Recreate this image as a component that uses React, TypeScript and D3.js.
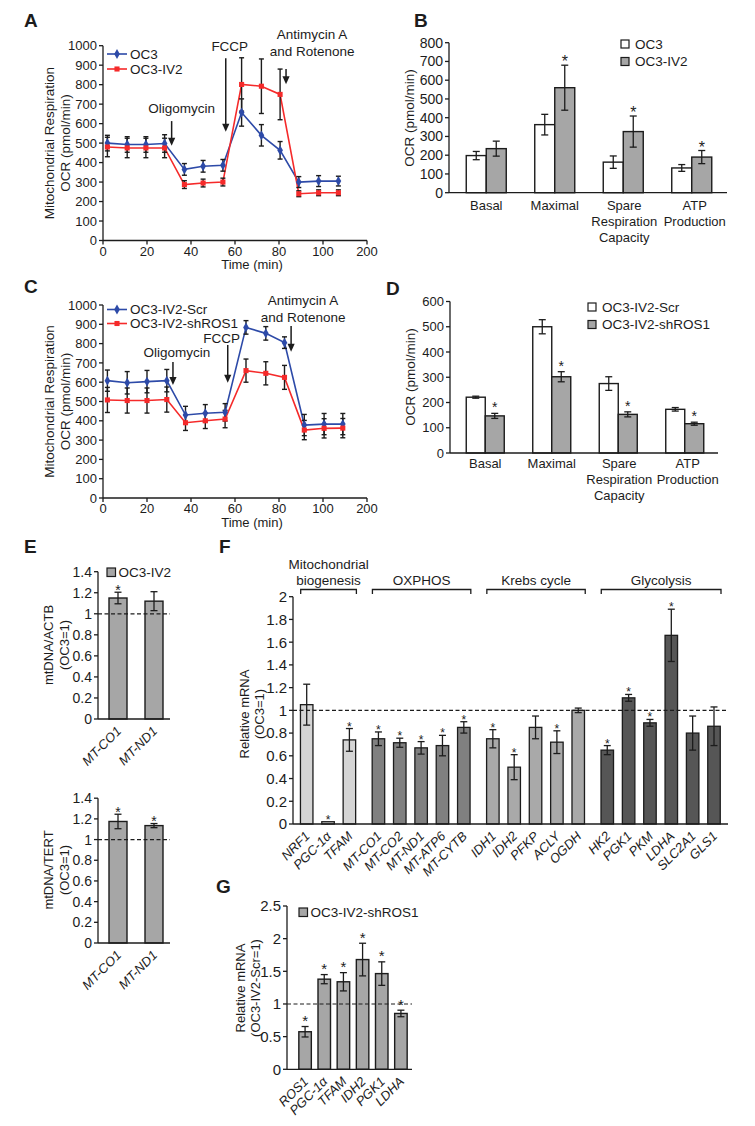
import * as d3 from "d3";

const FONT = "'Liberation Sans', Arial, Helvetica, sans-serif";
const INK = "#1c1c1c";
const BLUE = "#2d4aa8";
const RED = "#f52a2a";
const BAR_GREY = "#a6a6a6";

// ---------- A / C : mitochondrial respiration traces ----------
const timeTicks = [0, 20, 40, 60, 80, 100, 120];
const timeTickLabels = ["0", "20", "40", "60", "80", "100", "200"];
const ocrTicks = [0, 100, 200, 300, 400, 500, 600, 700, 800, 900, 1000];

const timeA = [2, 11, 19.5, 28, 37, 45.5, 54.5, 63, 72, 80.5, 89, 98, 107];
const ocrOC3 = [500, 493, 493, 498, 365, 381, 386, 657, 540, 463, 300, 305, 305];
const ocrOC3Err = [40, 40, 40, 45, 30, 30, 30, 70, 55, 45, 28, 28, 25];
const ocrIV2 = [480, 475, 475, 475, 287, 295, 300, 801, 792, 750, 240, 245, 245];
const ocrIV2Err = [50, 50, 50, 50, 20, 20, 20, 137, 140, 130, 15, 15, 15];

const timeC = [2, 11, 20, 29, 37.5, 46.5, 55.5, 65, 74, 82.5, 91.5, 100.5, 109];
const ocrScr = [608, 597, 603, 608, 430, 439, 444, 884, 853, 805, 378, 383, 383];
const ocrScrErr = [55, 58, 58, 58, 45, 45, 45, 35, 35, 30, 55, 55, 55];
const ocrSh = [508, 505, 505, 510, 390, 400, 409, 660, 646, 625, 352, 361, 362];
const ocrShErr = [65, 65, 65, 65, 40, 40, 45, 60, 60, 62, 50, 50, 50];

// injection arrows (time, arrow top / tip in OCR units)
const annotA = [
  { lines: ["Oligomycin"], t: 31.2, top: 613, tip: 486, dx: 10, gap: 8 },
  { lines: ["FCCP"], t: 55.8, top: 936, tip: 558, dx: 4, gap: 7 },
  { lines: ["Antimycin A", "and Rotenone"], t: 83.2, top: 880, tip: 802, dx: 26, gap: 13 },
];
const annotC = [
  { lines: ["Oligomycin"], t: 31.8, top: 705, tip: 585, dx: 4, gap: 5 },
  { lines: ["FCCP"], t: 56.7, top: 793, tip: 597, dx: -6, gap: 2 },
  { lines: ["Antimycin A", "and Rotenone"], t: 85.5, top: 891, tip: 758, dx: 12, gap: 4 },
];

// ---------- B / D : OCR parameters ----------
const respCats = ["Basal", "Maximal", "Spare", "ATP"];
const respCatLines = [["Basal"], ["Maximal"], ["Spare", "Respiration", "Capacity"], ["ATP", "Production"]];
const ocrBTicks = [0, 100, 200, 300, 400, 500, 600, 700, 800];
const ocrDTicks = [0, 100, 200, 300, 400, 500, 600];

const bOC3 = [198, 363, 163, 132];
const bOC3Err = [22, 55, 33, 18];
const bIV2 = [235, 560, 326, 190];
const bIV2Err = [40, 120, 83, 35];
const bIV2Sig = [false, true, true, true];

const dScr = [221, 500, 275, 173];
const dScrErr = [4, 28, 27, 7];
const dSh = [147, 302, 153, 116];
const dShErr = [10, 20, 10, 6];
const dShSig = [true, true, true, true];

// ---------- E : mtDNA copy number ----------
const eGenes = ["MT-CO1", "MT-ND1"];
const eTicks = [0, 0.2, 0.4, 0.6, 0.8, 1, 1.2, 1.4];
const eACTB = [1.15, 1.12];
const eACTBErr = [0.055, 0.09];
const eACTBSig = [true, false];
const eTERT = [1.175, 1.135];
const eTERTErr = [0.07, 0.02];
const eTERTSig = [true, true];

// ---------- F : relative mRNA OC3-IV2 vs OC3 ----------
const fGroupNames = [["Mitochondrial", "biogenesis"], ["OXPHOS"], ["Krebs cycle"], ["Glycolysis"]];
const fGroupFill = ["#d5d5d5", "#808080", "#a9a9a9", "#565656"];
const fGenes = ["NRF1", "PGC-1α", "TFAM", "MT-CO1", "MT-CO2", "MT-ND1", "MT-ATP6", "MT-CYTB",
  "IDH1", "IDH2", "PFKP", "ACLY", "OGDH", "HK2", "PGK1", "PKM", "LDHA", "SLC2A1", "GLS1"];
const fGroupOf = [0, 0, 0, 1, 1, 1, 1, 1, 2, 2, 2, 2, 2, 3, 3, 3, 3, 3, 3];
const fValues = [1.05, 0.02, 0.74, 0.75, 0.715, 0.67, 0.69, 0.85, 0.75, 0.5, 0.85, 0.72, 1.0,
  0.65, 1.11, 0.89, 1.66, 0.8, 0.86];
const fErr = [0.18, 0, 0.1, 0.06, 0.04, 0.055, 0.09, 0.05, 0.08, 0.11, 0.1, 0.1, 0.02,
  0.04, 0.03, 0.03, 0.23, 0.15, 0.17];
const fSig = [false, true, true, true, true, true, true, true, true, true, false, true, false,
  true, true, true, true, false, false];
const fTicks = [0, 0.2, 0.4, 0.6, 0.8, 1, 1.2, 1.4, 1.6, 1.8, 2];

// ---------- G : relative mRNA shROS1 vs Scr ----------
const gGenes = ["ROS1", "PGC-1α", "TFAM", "IDH2", "PGK1", "LDHA"];
const gValues = [0.575, 1.38, 1.34, 1.68, 1.465, 0.855];
const gErr = [0.08, 0.07, 0.14, 0.25, 0.18, 0.05];
const gSig = [true, true, true, true, true, true];
const gTicks = [0, 0.5, 1, 1.5, 2, 2.5];

const fmtDec = (v: number) => String(+v.toFixed(1));

function YAxis({ x, scale, ticks, fontSize, fmt = (v: number) => String(v) }: any) {
  const [y0, y1] = scale.range();
  return (
    <g>
      <line x1={x} x2={x} y1={y0} y2={y1} stroke={INK} strokeWidth={1.3} />
      {ticks.map((t: number) => (
        <g key={t}>
          <line x1={x - 4} x2={x} y1={scale(t)} y2={scale(t)} stroke={INK} strokeWidth={1.3} />
          <text x={x - 6} y={scale(t)} dy="0.36em" textAnchor="end" fontSize={fontSize}>
            {fmt(t)}
          </text>
        </g>
      ))}
    </g>
  );
}

function RotLabel({ x, y, lines, fontSize, lh }: any) {
  return (
    <text transform={`translate(${x},${y}) rotate(-90)`} textAnchor="middle" fontSize={fontSize}>
      {lines.map((l: string, i: number) => (
        <tspan key={i} x={0} dy={i === 0 ? 0 : lh}>{l}</tspan>
      ))}
    </text>
  );
}

function ErrorBar({ x, y1, y2, cap, w = 1.3 }: any) {
  return (
    <g stroke={INK} strokeWidth={w}>
      <line x1={x} x2={x} y1={y1} y2={y2} />
      <line x1={x - cap / 2} x2={x + cap / 2} y1={y1} y2={y1} />
      <line x1={x - cap / 2} x2={x + cap / 2} y1={y2} y2={y2} />
    </g>
  );
}

function PanelLetter({ x, y, children }: any) {
  return <text x={x} y={y} fontSize={19} fontWeight="bold">{children}</text>;
}

function TracePanel({ top, bottom, time, s1, s1Err, s2, s2Err, names, annots, legendY, legendDy }: any) {
  const x = d3.scaleLinear().domain([0, 120]).range([103, 367]);
  const y = d3.scaleLinear().domain([0, 1000]).range([bottom, top]);
  const diamond = d3.symbol(d3.symbolDiamond, 28)() as string;
  const square = d3.symbol(d3.symbolSquare, 26)() as string;
  const series = [
    { v: s1, e: s1Err, color: BLUE, mark: diamond },
    { v: s2, e: s2Err, color: RED, mark: square },
  ];
  const path = (v: number[]) =>
    d3.line<number>().x((_, i) => x(time[i])).y((d) => y(d))(v) as string;
  return (
    <g>
      <YAxis x={103} scale={y} ticks={ocrTicks} fontSize={13} />
      <line x1={x(0)} x2={x(120)} y1={bottom} y2={bottom} stroke={INK} strokeWidth={1.3} />
      {timeTicks.map((t, i) => (
        <g key={t}>
          <line x1={x(t)} x2={x(t)} y1={bottom} y2={bottom + 4} stroke={INK} strokeWidth={1.3} />
          <text x={x(t)} y={bottom + 15} textAnchor="middle" fontSize={13}>{timeTickLabels[i]}</text>
        </g>
      ))}
      <text x={(x(0) + x(120)) / 2 + 17} y={bottom + 28.5} textAnchor="middle" fontSize={13}>Time (min)</text>

      {series.map((s, k) => (
        <path key={"l" + k} d={path(s.v)} fill="none" stroke={s.color} strokeWidth={1.6} />
      ))}
      {series.map((s, k) =>
        s.v.map((v: number, i: number) => (
          <ErrorBar key={`e${k}-${i}`} x={x(time[i])} y1={y(v - s.e[i])} y2={y(v + s.e[i])} cap={5} w={1.4} />
        ))
      )}
      {series.map((s, k) =>
        s.v.map((v: number, i: number) => (
          <path key={`m${k}-${i}`} d={s.mark} transform={`translate(${x(time[i])},${y(v)})`} fill={s.color} />
        ))
      )}

      {annots.map((a: any, i: number) => {
        const ax = x(a.t);
        const yTop = y(a.top);
        const yTip = y(a.tip);
        const n = a.lines.length;
        return (
          <g key={i}>
            <line x1={ax} x2={ax} y1={yTop} y2={yTip - 6} stroke={INK} strokeWidth={1.5} />
            <path d={`M${ax - 3.6},${yTip - 8} L${ax + 3.6},${yTip - 8} L${ax},${yTip} Z`} fill={INK} />
            {a.lines.map((l: string, j: number) => (
              <text key={j} x={ax + a.dx} y={yTop - a.gap - (n - 1 - j) * 17} textAnchor="middle" fontSize={13.5}>
                {l}
              </text>
            ))}
          </g>
        );
      })}

      {series.map((s, k) => (
        <g key={"lg" + k}>
          <line x1={107} x2={127} y1={legendY + k * legendDy} y2={legendY + k * legendDy} stroke={s.color} strokeWidth={1.6} />
          <path d={s.mark} transform={`translate(117,${legendY + k * legendDy})`} fill={s.color} />
          <text x={130} y={legendY + k * legendDy} dy="0.34em" fontSize={13.5}>{names[k]}</text>
        </g>
      ))}

      <RotLabel x={53.5} y={(top + bottom) / 2} lines={["Mitochondrial Respiration", "OCR (pmol/min)"]} fontSize={13.5} lh={16} />
    </g>
  );
}

// small horizontal nudges of the category captions (the two-line ones sit right of the bars)
const catDx = [0, 0, 1, 3];

function PairBarPanel({ axisX, axisEnd, bandRange, y, ticks, tickFs, barW, a, aErr, b, bErr, bSig,
  starDy, starFs, catY, names, legendX, legendY, yLabelY }: any) {
  const band = d3.scaleBand().domain(respCats).range(bandRange);
  const bottom = y(0);
  return (
    <g>
      {respCats.map((c, i) => {
        const cx = (band(c) as number) + band.bandwidth() / 2;
        return (
          <g key={c}>
            <rect x={cx - barW} y={y(a[i])} width={barW} height={bottom - y(a[i])} fill="#fff" stroke={INK} strokeWidth={1.4} />
            <rect x={cx} y={y(b[i])} width={barW} height={bottom - y(b[i])} fill={BAR_GREY} stroke={INK} strokeWidth={1.4} />
            <ErrorBar x={cx - barW / 2} y1={y(a[i] - aErr[i])} y2={y(a[i] + aErr[i])} cap={7} />
            <ErrorBar x={cx + barW / 2} y1={y(b[i] - bErr[i])} y2={y(b[i] + bErr[i])} cap={7} />
            {bSig[i] && (
              <text x={cx + barW / 2} y={y(b[i] + bErr[i]) + starDy} textAnchor="middle" fontSize={starFs}>*</text>
            )}
            {respCatLines[i].map((l, j) => (
              <text key={j} x={cx + catDx[i]} y={catY + j * 16} textAnchor="middle" fontSize={13}>{l}</text>
            ))}
          </g>
        );
      })}
      <YAxis x={axisX} scale={y} ticks={ticks} fontSize={tickFs} />
      <line x1={axisX} x2={axisEnd} y1={bottom} y2={bottom} stroke={INK} strokeWidth={1.3} />
      {names.map((n: string, k: number) => (
        <g key={n}>
          <rect x={legendX} y={legendY + k * 17.5 - 4} width={8} height={8} fill={k === 0 ? "#fff" : BAR_GREY} stroke={INK} strokeWidth={1.2} />
          <text x={legendX + 14} y={legendY + k * 17.5} dy="0.36em" fontSize={13.5}>{n}</text>
        </g>
      ))}
      <RotLabel x={axisX - 35} y={yLabelY} lines={["OCR (pmol/min)"]} fontSize={13.5} lh={16} />
    </g>
  );
}

function GeneLabels({ genes, centers, axisY }: any) {
  return (
    <g>
      {genes.map((g: string, i: number) => (
        <text key={g} transform={`translate(${centers[i] + 4},${axisY + 13}) rotate(-45)`} textAnchor="end" fontSize={13} fontStyle="italic">
          {g}
        </text>
      ))}
    </g>
  );
}

function SingleBarPanel({ genes, values, errs, sig, bandRange, axisX, axisEnd, y, ticks, tickFs, barW,
  starDy, starFs, legend, legendX, legendY, yLabel, yLabelX, yLabelY, yLabelLh, fmt }: any) {
  const band = d3.scaleBand().domain(genes).range(bandRange);
  const centers = genes.map((g: string) => (band(g) as number) + band.bandwidth() / 2);
  const bottom = y(0);
  return (
    <g>
      {genes.map((g: string, i: number) => (
        <g key={g}>
          <rect x={centers[i] - barW / 2} y={y(values[i])} width={barW} height={bottom - y(values[i])} fill={BAR_GREY} stroke={INK} strokeWidth={1.4} />
          <ErrorBar x={centers[i]} y1={y(values[i] - errs[i])} y2={y(values[i] + errs[i])} cap={7} />
          {sig[i] && (
            <text x={centers[i]} y={y(values[i] + errs[i]) + starDy} textAnchor="middle" fontSize={starFs}>*</text>
          )}
        </g>
      ))}
      <line x1={axisX} x2={axisEnd} y1={y(1)} y2={y(1)} stroke={INK} strokeWidth={1.2} strokeDasharray="4,2.5" />
      <YAxis x={axisX} scale={y} ticks={ticks} fontSize={tickFs} fmt={fmt} />
      <line x1={axisX} x2={axisEnd} y1={bottom} y2={bottom} stroke={INK} strokeWidth={1.3} />
      <GeneLabels genes={genes} centers={centers} axisY={bottom} />
      {legend && (
        <g>
          <rect x={legendX} y={legendY - 4.5} width={8.5} height={8.5} fill={BAR_GREY} stroke={INK} strokeWidth={1.2} />
          <text x={legendX + 11.5} y={legendY} dy="0.36em" fontSize={13.5}>{legend}</text>
        </g>
      )}
      <RotLabel x={yLabelX} y={yLabelY} lines={yLabel} fontSize={13} lh={yLabelLh} />
    </g>
  );
}

function PanelF() {
  const y = d3.scaleLinear().domain([0, 2]).range([824, 596.7]);
  const slot = fGenes.map((_, i) => i + fGroupOf[i] * 0.36);
  const fx = d3.scaleLinear().domain([0, slot[slot.length - 1]]).range([306.7, 714]);
  const centers = slot.map((s) => fx(s));
  const barW = 12.5;
  const bottom = y(0);
  return (
    <g>
      {fGroupNames.map((lines, g) => {
        const idx = fGroupOf.map((v, i) => (v === g ? i : -1)).filter((i) => i >= 0);
        const x1 = centers[idx[0]] - 6;
        const x2 = centers[idx[idx.length - 1]] + 7;
        return (
          <g key={g}>
            <path d={`M${x1},594 V589.5 H${x2} V594`} fill="none" stroke={INK} strokeWidth={1.3} />
            {lines.map((l, j) => (
              <text key={j} x={(x1 + x2) / 2} y={585 - (lines.length - 1 - j) * 16.5} textAnchor="middle" fontSize={13.5}>{l}</text>
            ))}
          </g>
        );
      })}
      {fGenes.map((g, i) => (
        <g key={g}>
          <rect x={centers[i] - barW / 2} y={y(fValues[i])} width={barW} height={bottom - y(fValues[i])} fill={fGroupFill[fGroupOf[i]]} stroke={INK} strokeWidth={1.3} />
          {fErr[i] > 0 && (
            <ErrorBar x={centers[i]} y1={y(fValues[i] - fErr[i])} y2={y(fValues[i] + fErr[i])} cap={7} />
          )}
          {fSig[i] && (
            <text x={centers[i]} y={y(fValues[i] + fErr[i]) + 2} textAnchor="middle" fontSize={12}>*</text>
          )}
        </g>
      ))}
      <line x1={293} x2={728} y1={y(1)} y2={y(1)} stroke={INK} strokeWidth={1.2} strokeDasharray="4,2.5" />
      <YAxis x={293} scale={y} ticks={fTicks} fontSize={15} fmt={fmtDec} />
      <line x1={293} x2={728} y1={bottom} y2={bottom} stroke={INK} strokeWidth={1.3} />
      <GeneLabels genes={fGenes} centers={centers} axisY={bottom} />
      <RotLabel x={248.5} y={714} lines={["Relative mRNA", "(OC3=1)"]} fontSize={13} lh={15.5} />
    </g>
  );
}

export default function App() {
  const yB = d3.scaleLinear().domain([0, 800]).range([192.7, 42.7]);
  const yD = d3.scaleLinear().domain([0, 600]).range([453, 301.5]);
  const yE1 = d3.scaleLinear().domain([0, 1.4]).range([719, 571.7]);
  const yE2 = d3.scaleLinear().domain([0, 1.4]).range([943, 798.2]);
  const yG = d3.scaleLinear().domain([0, 2.5]).range([1069.3, 906]);
  return (
    <svg width={755} height={1126} style={{ position: "absolute", left: 0, top: 0, fontFamily: FONT }} fill={INK}>
      <rect width={755} height={1126} fill="#fff" />

      <PanelLetter x={24} y={27}>A</PanelLetter>
      <TracePanel top={45.7} bottom={240.5} time={timeA} s1={ocrOC3} s1Err={ocrOC3Err} s2={ocrIV2} s2Err={ocrIV2Err}
        names={["OC3", "OC3-IV2"]} annots={annotA} legendY={54} legendDy={15} />

      <PanelLetter x={414} y={27}>B</PanelLetter>
      <PairBarPanel axisX={449} axisEnd={727} bandRange={[452, 726]} y={yB} ticks={ocrBTicks} tickFs={14} barW={20}
        a={bOC3} aErr={bOC3Err} b={bIV2} bErr={bIV2Err} bSig={bIV2Sig} starDy={2} starFs={16} catY={210}
        names={["OC3", "OC3-IV2"]} legendX={621} legendY={44} yLabelY={118} />

      <PanelLetter x={24} y={293}>C</PanelLetter>
      <TracePanel top={305} bottom={498} time={timeC} s1={ocrScr} s1Err={ocrScrErr} s2={ocrSh} s2Err={ocrShErr}
        names={["OC3-IV2-Scr", "OC3-IV2-shROS1"]} annots={annotC} legendY={309.5} legendDy={14} />

      <PanelLetter x={386} y={295}>D</PanelLetter>
      <PairBarPanel axisX={450} axisEnd={718} bandRange={[452, 718]} y={yD} ticks={ocrDTicks} tickFs={13} barW={19}
        a={dScr} aErr={dScrErr} b={dSh} bErr={dShErr} bSig={dShSig} starDy={-1} starFs={14} catY={468}
        names={["OC3-IV2-Scr", "OC3-IV2-shROS1"]} legendX={588} legendY={307} yLabelY={377} />

      <PanelLetter x={24} y={553}>E</PanelLetter>
      <SingleBarPanel genes={eGenes} values={eACTB} errs={eACTBErr} sig={eACTBSig} bandRange={[100, 172]}
        axisX={98} axisEnd={170} y={yE1} ticks={eTicks} tickFs={14} barW={18} starDy={2.5} starFs={14}
        legend="OC3-IV2" legendX={107} legendY={572.5} yLabel={["mtDNA/ACTB", "(OC3=1)"]}
        yLabelX={52.5} yLabelY={645} yLabelLh={16} fmt={fmtDec} />
      <SingleBarPanel genes={eGenes} values={eTERT} errs={eTERTErr} sig={eTERTSig} bandRange={[100, 172]}
        axisX={98} axisEnd={170} y={yE2} ticks={eTicks} tickFs={14} barW={18} starDy={2.5} starFs={14}
        yLabel={["mtDNA/TERT", "(OC3=1)"]} yLabelX={52.5} yLabelY={870} yLabelLh={16} fmt={fmtDec} />

      <PanelLetter x={219} y={553}>F</PanelLetter>
      <PanelF />

      <PanelLetter x={216} y={893}>G</PanelLetter>
      <SingleBarPanel genes={gGenes} values={gValues} errs={gErr} sig={gSig} bandRange={[295.5, 410.5]}
        axisX={287} axisEnd={412} y={yG} ticks={gTicks} tickFs={15} barW={12.5} starDy={-0.5} starFs={15}
        legend="OC3-IV2-shROS1" legendX={299} legendY={912.5} yLabel={["Relative mRNA", "(OC3-IV2-Scr=1)"]}
        yLabelX={244.5} yLabelY={988} yLabelLh={15} fmt={fmtDec} />
    </svg>
  );
}
